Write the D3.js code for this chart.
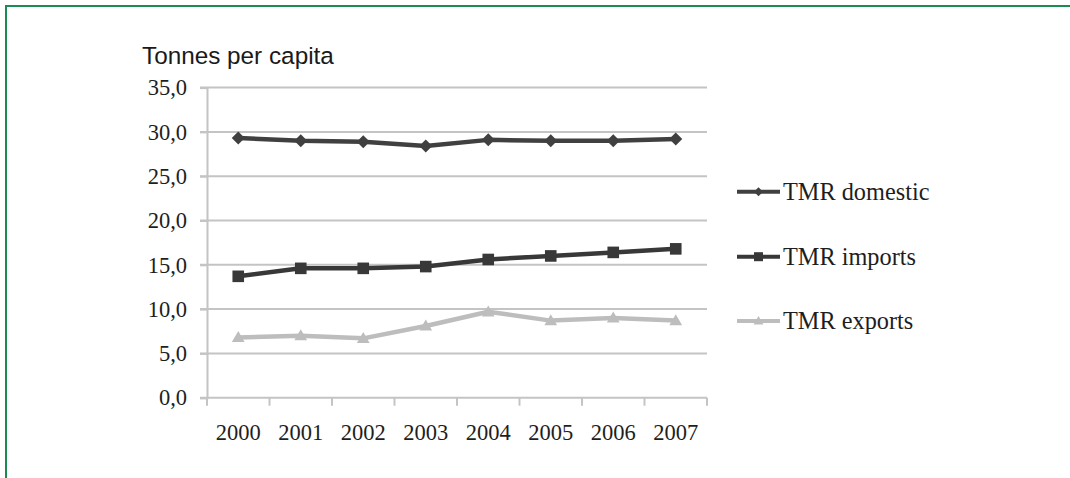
<!DOCTYPE html>
<html>
<head>
<meta charset="utf-8">
<script src="https://cdn.jsdelivr.net/npm/d3@7"></script>
<style>
  html, body { margin: 0; padding: 0; background: #fff; }
  svg { display: block; }
</style>
</head>
<body>
<svg id="chart" width="1070" height="478"></svg>
<script>
const years = ["2000", "2001", "2002", "2003", "2004", "2005", "2006", "2007"];
const tmrDomestic = [29.3, 29.0, 28.9, 28.4, 29.1, 29.0, 29.0, 29.2];
const tmrImports  = [13.7, 14.6, 14.6, 14.8, 15.6, 16.0, 16.4, 16.8];
const tmrExports  = [6.8, 7.0, 6.7, 8.1, 9.7, 8.7, 9.0, 8.7];
const yTicks = [0, 5, 10, 15, 20, 25, 30, 35];
const seriesNames = ["TMR domestic", "TMR imports", "TMR exports"];

const series = [
  { name: seriesNames[0], values: tmrDomestic, color: "#404040", marker: "diamond" },
  { name: seriesNames[1], values: tmrImports,  color: "#383838", marker: "square" },
  { name: seriesNames[2], values: tmrExports,  color: "#bdbdbd", marker: "triangle" }
];

const svg = d3.select("#chart");

// green frame (top and left edges visible)
svg.append("line").attr("x1", 6).attr("x2", 1070).attr("y1", 6).attr("y2", 6)
  .attr("stroke", "#1a8b52").attr("stroke-width", 2);
svg.append("line").attr("x1", 6).attr("x2", 6).attr("y1", 5).attr("y2", 478)
  .attr("stroke", "#1a8b52").attr("stroke-width", 2);

const plotLeft = 207, plotRight = 707, plotTop = 87.6, plotBottom = 397.7;

const x = d3.scaleBand().domain(years).range([plotLeft, plotRight]);
const y = d3.scaleLinear().domain([0, 35]).range([plotBottom, plotTop]);

const fmt = d => d3.format(".1f")(d).replace(".", ",");

// grid lines
const grid = svg.append("g");
grid.selectAll("line").data(yTicks).join("line")
  .attr("x1", plotLeft - 7).attr("x2", plotRight)
  .attr("y1", d => y(d)).attr("y2", d => y(d))
  .attr("stroke", "#c4c4c4").attr("stroke-width", 2);

// y axis
const yAxis = svg.append("g").attr("transform", `translate(${plotLeft},0)`)
  .call(d3.axisLeft(y).tickValues(yTicks).tickFormat(fmt).tickSize(7).tickPadding(13));
yAxis.select(".domain").attr("stroke", "#c4c4c4").attr("stroke-width", 2);
yAxis.selectAll(".tick line").attr("stroke", "#c4c4c4").attr("stroke-width", 2);
yAxis.selectAll(".tick text")
  .attr("font-family", "'Liberation Serif', 'Times New Roman', serif")
  .attr("font-size", 22.5).attr("fill", "#1e1e1e");

// x axis
const xAxis = svg.append("g").attr("transform", `translate(0,${plotBottom})`)
  .call(d3.axisBottom(x).tickSize(0).tickPadding(26));
xAxis.select(".domain").remove();
xAxis.selectAll(".tick text")
  .attr("font-family", "'Liberation Serif', 'Times New Roman', serif")
  .attr("font-size", 22.5).attr("fill", "#1e1e1e");
// category boundary ticks
const bounds = years.map(d => x(d)).concat([plotRight]);
svg.append("g").selectAll("line").data(bounds).join("line")
  .attr("x1", d => d).attr("x2", d => d)
  .attr("y1", plotBottom).attr("y2", plotBottom + 8)
  .attr("stroke", "#c4c4c4").attr("stroke-width", 2);

// title
svg.append("text").attr("x", 142).attr("y", 64)
  .attr("font-family", "'Liberation Sans', Arial, sans-serif")
  .attr("font-size", 24.3).attr("fill", "#1a1a1a")
  .text("Tonnes per capita");

const cx = d => x(d) + x.bandwidth() / 2;

function drawMarker(g, type, color, px, py, s) {
  if (type === "diamond") {
    g.append("path").attr("d", `M${px},${py - s}L${px + s},${py}L${px},${py + s}L${px - s},${py}Z`)
      .attr("fill", color);
  } else if (type === "square") {
    g.append("rect").attr("x", px - s).attr("y", py - s).attr("width", 2 * s).attr("height", 2 * s)
      .attr("fill", color);
  } else {
    g.append("path").attr("d", `M${px},${py - s * 1.1}L${px + s * 1.1},${py + s * 0.8}L${px - s * 1.1},${py + s * 0.8}Z`)
      .attr("fill", color);
  }
}

const line = d3.line().x((d, i) => cx(years[i])).y(d => y(d));

series.forEach(s => {
  const g = svg.append("g");
  g.append("path").datum(s.values).attr("d", line)
    .attr("fill", "none").attr("stroke", s.color).attr("stroke-width", 4.5)
    .attr("stroke-linejoin", "round");
  const size = s.marker === "diamond" ? 6.5 : 5.8;
  s.values.forEach((v, i) => drawMarker(g, s.marker, s.color, cx(years[i]), y(v), size));
});

// legend
const legendY = [191.7, 256.7, 321];
series.forEach((s, i) => {
  const g = svg.append("g");
  g.append("line").attr("x1", 737).attr("x2", 780).attr("y1", legendY[i]).attr("y2", legendY[i])
    .attr("stroke", s.color).attr("stroke-width", 4);
  drawMarker(g, s.marker, s.color, 758.5, legendY[i], s.marker === "diamond" ? 4.5 : 4.5);
  g.append("text").attr("x", 783).attr("y", legendY[i] + 8)
    .attr("font-family", "'Liberation Serif', 'Times New Roman', serif")
    .attr("font-size", 24.3).attr("fill", "#1e1e1e")
    .text(s.name);
});
</script>
</body>
</html>
